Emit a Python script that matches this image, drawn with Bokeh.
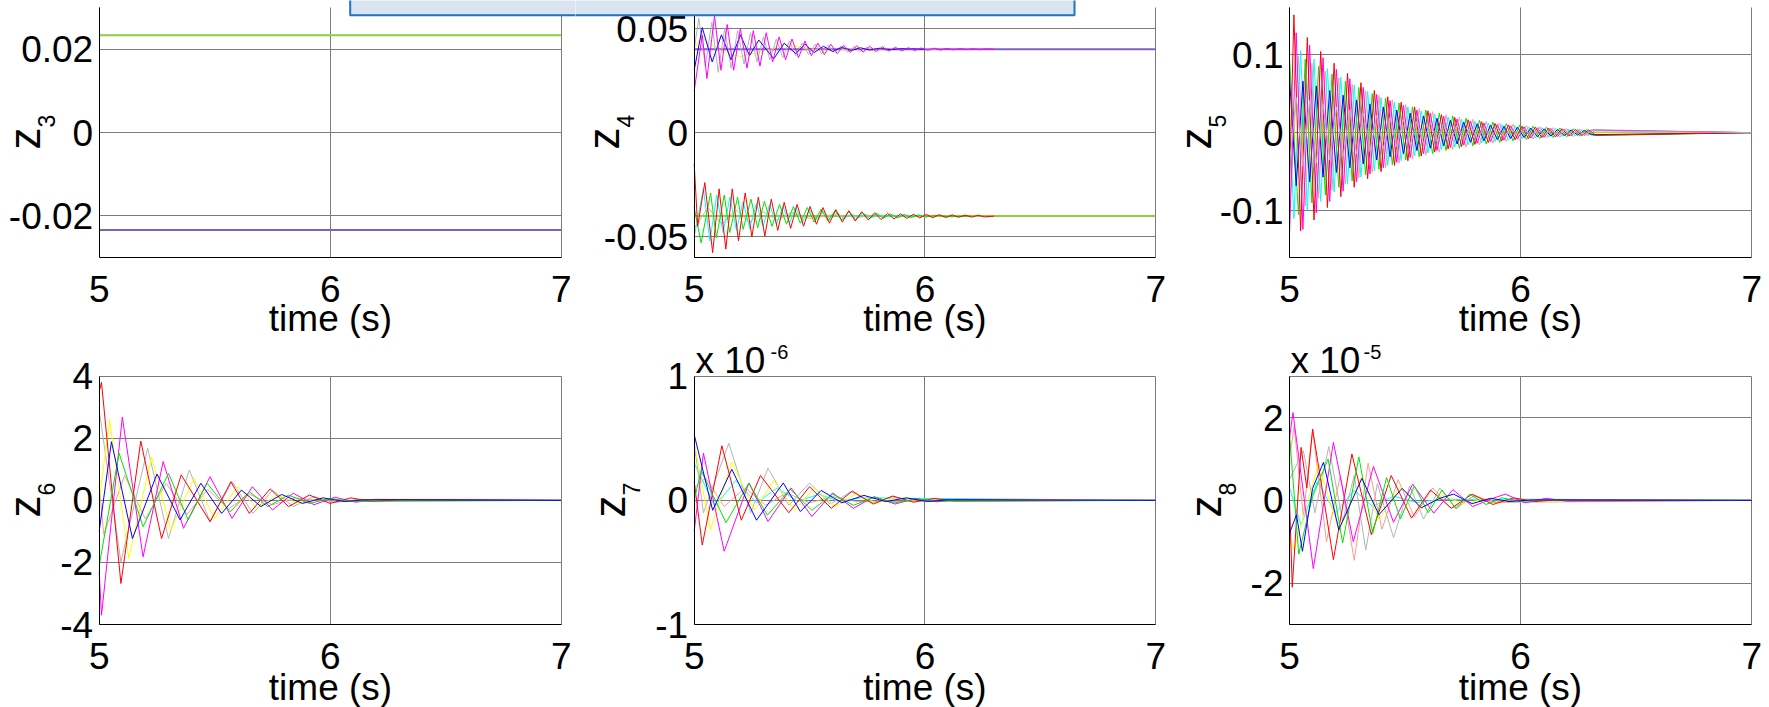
import math
from bokeh.plotting import figure
from bokeh.layouts import column, row
from bokeh.models import FixedTicker, Label, BoxAnnotation, Range1d, Grid
from bokeh.embed import file_html
from bokeh.resources import INLINE

# ---------------------------------------------------------------- data
TIME_TICKS = [5, 6, 7]
TIME_LABELS = ["5", "6", "7"]

Z3_TICKS, Z3_TICK_LABELS = [-0.02, 0, 0.02], ["-0.02", "0", "0.02"]
Z4_TICKS, Z4_TICK_LABELS = [-0.05, 0, 0.05], ["-0.05", "0", "0.05"]
Z5_TICKS, Z5_TICK_LABELS = [-0.1, 0, 0.1], ["-0.1", "0", "0.1"]
Z6_TICKS, Z6_TICK_LABELS = [-4, -2, 0, 2, 4], ["-4", "-2", "0", "2", "4"]
Z7_TICKS, Z7_TICK_LABELS = [-1, 0, 1], ["-1", "0", "1"]        # values in units of 1e-6
Z8_TICKS, Z8_TICK_LABELS = [-2, 0, 2], ["-2", "0", "2"]         # values in units of 1e-5

# z3 : constant states
Z3_T = [5.0, 7.0]
Z3_LIME = [0.0234, 0.0234]
Z3_PURPLE = [-0.0234, -0.0234]

# z4
Z4_CONST_T = [5.0, 7.0]
Z4_UPPER = [0.0401, 0.0401]
Z4_LOWER = [-0.0401, -0.0401]
Z4_MAGENTA_T = [5.000, 5.035, 5.055, 5.088, 5.116, 5.143, 5.171, 5.200, 5.229, 5.256,
                5.285, 5.312, 5.340, 5.368, 5.396, 5.424, 5.452, 5.480, 5.508, 5.536,
                5.564, 5.592, 5.620, 5.648, 5.676, 5.704, 5.732, 5.760, 5.788, 5.816,
                5.844, 5.872, 5.900, 5.928, 5.956, 5.984, 6.012, 6.040, 6.068, 6.096,
                6.124, 6.152, 6.180, 6.208, 6.236, 6.264, 6.300]
Z4_MAGENTA = [0.020, 0.047, 0.026, 0.056, 0.030, 0.052, 0.030, 0.050, 0.031, 0.049,
              0.032, 0.048, 0.034, 0.046, 0.035, 0.045, 0.036, 0.044, 0.037, 0.043,
              0.0375, 0.0425, 0.038, 0.042, 0.0385, 0.0418, 0.0387, 0.0415, 0.039, 0.0412,
              0.0392, 0.041, 0.0393, 0.0408, 0.0395, 0.0407, 0.0396, 0.0406, 0.0397, 0.0405,
              0.0398, 0.0404, 0.0399, 0.0403, 0.0399, 0.0403, 0.0401]
Z4_GRAY_T = [5.000, 5.020, 5.048, 5.076, 5.104, 5.132, 5.160, 5.188, 5.216, 5.244,
             5.272, 5.300, 5.328, 5.356, 5.384, 5.412, 5.440, 5.468, 5.496, 5.524,
             5.552, 5.580, 5.608, 5.636, 5.664, 5.692, 5.720, 5.748, 5.776, 5.804,
             5.832, 5.860, 5.888, 5.916, 5.944, 5.972, 6.050]
Z4_GRAY = [0.040, 0.055, 0.032, 0.053, 0.029, 0.050, 0.031, 0.049, 0.033, 0.048,
           0.034, 0.046, 0.035, 0.045, 0.036, 0.044, 0.037, 0.043, 0.0375, 0.0425,
           0.038, 0.042, 0.0385, 0.0416, 0.0388, 0.0413, 0.039, 0.041, 0.0393, 0.0408,
           0.0395, 0.0406, 0.0397, 0.0404, 0.0398, 0.0403, 0.0401]
Z4_BLUE_T = [5.000, 5.035, 5.078, 5.118, 5.160, 5.200, 5.240, 5.280, 5.345, 5.390,
             5.440, 5.480, 5.520, 5.560, 5.600, 5.640, 5.680, 5.720, 5.760, 5.800,
             5.850, 5.900, 6.000]
Z4_BLUE = [0.030, 0.0505, 0.034, 0.047, 0.035, 0.047, 0.037, 0.0445, 0.0355, 0.043,
           0.038, 0.0425, 0.0385, 0.0415, 0.039, 0.041, 0.0395, 0.0408, 0.0397, 0.0405,
           0.0399, 0.0403, 0.0401]
Z4_YELLOW_T = [5.000, 5.030, 5.100, 5.200, 5.300, 5.400, 5.500, 5.600, 5.700, 5.850]
Z4_YELLOW = [0.040, 0.046, 0.040, 0.0365, 0.039, 0.0425, 0.040, 0.0393, 0.0405, 0.0401]
Z4_RED_T = [5.000, 5.015, 5.046, 5.080, 5.108, 5.137, 5.165, 5.192, 5.221, 5.250,
            5.278, 5.306, 5.334, 5.362, 5.390, 5.418, 5.446, 5.474, 5.502, 5.530,
            5.558, 5.586, 5.614, 5.642, 5.670, 5.698, 5.726, 5.754, 5.782, 5.810,
            5.838, 5.866, 5.894, 5.922, 5.950, 5.978, 6.006, 6.034, 6.062, 6.090,
            6.118, 6.146, 6.174, 6.202, 6.230, 6.258, 6.300]
Z4_RED = [-0.015, -0.045, -0.024, -0.0577, -0.027, -0.056, -0.027, -0.052, -0.029, -0.050,
          -0.031, -0.0497, -0.032, -0.047, -0.0335, -0.046, -0.0345, -0.045, -0.0355, -0.044,
          -0.036, -0.0435, -0.037, -0.043, -0.0375, -0.0425, -0.038, -0.042, -0.0385, -0.0418,
          -0.0388, -0.0415, -0.039, -0.0412, -0.0392, -0.041, -0.0393, -0.0409, -0.0394, -0.0408,
          -0.0395, -0.0407, -0.0396, -0.0406, -0.0397, -0.0405, -0.0401]
Z4_GREEN_T = [5.000, 5.030, 5.071, 5.096, 5.130, 5.154, 5.188, 5.212, 5.246, 5.275,
              5.304, 5.337, 5.370, 5.400, 5.430, 5.460, 5.490, 5.520, 5.550, 5.580,
              5.610, 5.640, 5.670, 5.700, 5.730, 5.760, 5.790, 5.820, 5.850, 5.880,
              5.910, 5.940, 5.970, 6.000, 6.050, 6.100, 6.200]
Z4_GREEN = [-0.036, -0.053, -0.029, -0.0505, -0.030, -0.048, -0.031, -0.0465, -0.032, -0.0457,
            -0.033, -0.045, -0.0345, -0.044, -0.0355, -0.0435, -0.036, -0.043, -0.0368, -0.0425,
            -0.0375, -0.042, -0.038, -0.0418, -0.0385, -0.0414, -0.0388, -0.0412, -0.039, -0.041,
            -0.0393, -0.0408, -0.0395, -0.0406, -0.0397, -0.0404, -0.0401]
Z4_CYAN_T = [5.000, 5.040, 5.068, 5.098, 5.125, 5.155, 5.183, 5.212, 5.240, 5.270,
             5.298, 5.327, 5.356, 5.385, 5.413, 5.440, 5.470, 5.500, 5.530, 5.560,
             5.590, 5.620, 5.650, 5.680, 5.710, 5.740, 5.770, 5.800, 5.850, 5.900, 6.000]
Z4_CYAN = [-0.050, -0.027, -0.052, -0.030, -0.048, -0.031, -0.047, -0.033, -0.046, -0.034,
           -0.045, -0.0345, -0.044, -0.0355, -0.0435, -0.036, -0.043, -0.037, -0.042, -0.0378,
           -0.0418, -0.0385, -0.0414, -0.039, -0.041, -0.0393, -0.0407, -0.0396, -0.0404, -0.0399, -0.0401]
Z4_SALMON_T = [5.000, 5.060, 5.120, 5.180, 5.240, 5.300, 5.360, 5.420, 5.500, 5.600, 5.700, 5.850]
Z4_SALMON = [-0.046, -0.036, -0.044, -0.037, -0.043, -0.038, -0.042, -0.0385, -0.0412, -0.0395, -0.0405, -0.0401]

# z5 : fast decaying oscillation, extrema read on three time grids
Z5_TA = [5.000, 5.029, 5.058, 5.087, 5.116, 5.145, 5.174, 5.203, 5.232, 5.261,
         5.290, 5.319, 5.348, 5.377, 5.406, 5.435, 5.464, 5.493, 5.522, 5.551,
         5.580, 5.609, 5.638, 5.667, 5.696, 5.725, 5.754, 5.783, 5.812, 5.841,
         5.870, 5.899, 5.928, 5.957, 5.986, 6.015, 6.044, 6.073, 6.102, 6.131,
         6.160, 6.189, 6.218, 6.247, 6.276, 6.305, 7.000]
Z5_TB = [5.000, 5.039, 5.068, 5.097, 5.126, 5.155, 5.184, 5.213, 5.242, 5.271,
         5.300, 5.329, 5.358, 5.387, 5.416, 5.445, 5.474, 5.503, 5.532, 5.561,
         5.590, 5.619, 5.648, 5.677, 5.706, 5.735, 5.764, 5.793, 5.822, 5.851,
         5.880, 5.909, 5.938, 5.967, 5.996, 6.025, 6.054, 6.083, 6.112, 6.141,
         6.170, 6.199, 6.228, 6.257, 6.286, 6.315, 7.000]
Z5_TC = [5.000, 5.019, 5.048, 5.077, 5.106, 5.135, 5.164, 5.193, 5.222, 5.251,
         5.280, 5.309, 5.338, 5.367, 5.396, 5.425, 5.454, 5.483, 5.512, 5.541,
         5.570, 5.599, 5.628, 5.657, 5.686, 5.715, 5.744, 5.773, 5.802, 5.831,
         5.860, 5.889, 5.918, 5.947, 5.976, 6.005, 6.034, 6.063, 6.092, 6.121,
         6.150, 6.179, 6.208, 6.237, 6.266, 6.295, 6.324, 7.000]
Z5_RED = [-0.070,
          0.151, -0.126, 0.122, -0.112, 0.104, -0.096, 0.089, -0.082, 0.076, -0.070,
          0.064, -0.059, 0.054, -0.050, 0.046, -0.042, 0.039, -0.036, 0.033, -0.030,
          0.028, -0.025, 0.023, -0.021, 0.0195, -0.018, 0.0165, -0.015, 0.014, -0.0128,
          0.0118, -0.0108, 0.0099, -0.0091, 0.0083, -0.0076, 0.0070, -0.0064, 0.0059, -0.0054,
          0.0050, -0.0045, 0.0041, -0.0038, 0.0035, -0.0032, 0.0]
Z5_CYAN = [0.020,
           -0.110, 0.105, -0.100, 0.094, -0.088, 0.082, -0.076, 0.071, -0.066, 0.061,
           -0.057, 0.053, -0.049, 0.045, -0.042, 0.039, -0.036, 0.033, -0.030, 0.028,
           -0.026, 0.024, -0.022, 0.020, -0.0185, 0.017, -0.0157, 0.0145, -0.0134, 0.0123,
           -0.0113, 0.0104, -0.0096, 0.0088, -0.0081, 0.0075, -0.0069, 0.0063, -0.0058, 0.0053,
           -0.0049, 0.0045, -0.0041, 0.0038, -0.0035, 0.0032, 0.0]
Z5_MAGENTA = [-0.130, 0.128, -0.124, 0.112, -0.103, 0.096, -0.088, 0.081, -0.075, 0.069,
              -0.063, 0.058, -0.053, 0.049, -0.045, 0.041, -0.038, 0.035, -0.032, 0.029,
              -0.027, 0.025, -0.023, 0.021, -0.019, 0.0175, -0.016, 0.0147, -0.0135, 0.0124,
              -0.0114, 0.0105, -0.0096, 0.0088, -0.0081, 0.0075, -0.0069, 0.0063, -0.0058, 0.0053,
              -0.0049, 0.0045, -0.0041, 0.0038, -0.0035, 0.0032, 0.0]
Z5_BLUE = [0.070, -0.068, 0.066, -0.063, 0.060, -0.057, 0.054, -0.051, 0.048, -0.045,
           0.042, -0.040, 0.037, -0.035, 0.033, -0.031, 0.029, -0.027, 0.025, -0.023,
           0.0215, -0.020, 0.0185, -0.017, 0.0158, -0.0146, 0.0135, -0.0124, 0.0114, -0.0105,
           0.0097, -0.0089, 0.0082, -0.0075, 0.0069, -0.0063, 0.0058, -0.0053, 0.0049, -0.0045,
           0.0041, -0.0038, 0.0035, -0.0032, 0.0029, -0.0026, 0.0]
Z5_GRAY = [-0.040, 0.045, -0.043, 0.041, -0.039, 0.037, -0.035, 0.033, -0.031, 0.029,
           -0.027, 0.025, -0.024, 0.022, -0.021, 0.0195, -0.018, 0.017, -0.016, 0.015,
           -0.014, 0.013, -0.012, 0.011, -0.0103, 0.0096, -0.009, 0.0084, -0.0078, 0.0073,
           -0.0068, 0.0063, -0.0059, 0.0055, -0.0051, 0.0048, -0.0045, 0.0042, -0.0039, 0.0036,
           -0.0034, 0.0031, -0.0029, 0.0027, -0.0025, 0.0023, 0.0]
Z5_GREEN = [0.095, -0.105, 0.094, -0.090, 0.085, -0.080, 0.075, -0.070, 0.066, -0.062,
            0.058, -0.054, 0.050, -0.047, 0.044, -0.041, 0.038, -0.035, 0.033, -0.031,
            0.029, -0.027, 0.025, -0.023, 0.0215, -0.020, 0.0185, -0.017, 0.0158, -0.0146,
            0.0135, -0.0125, 0.0115, -0.0106, 0.0098, -0.0090, 0.0083, -0.0076, 0.0070, -0.0064,
            0.0059, -0.0054, 0.0050, -0.0046, 0.0042, -0.0038, 0.0]
Z5_SALMON = [-0.100, 0.098, -0.094, 0.089, -0.084, 0.079, -0.074, 0.070, -0.066, 0.062,
             -0.058, 0.054, -0.051, 0.048, -0.045, 0.042, -0.039, 0.036, -0.034, 0.031,
             -0.029, 0.027, -0.025, 0.023, -0.0215, 0.020, -0.0185, 0.017, -0.0158, 0.0146,
             -0.0135, 0.0125, -0.0115, 0.0106, -0.0098, 0.0090, -0.0083, 0.0076, -0.0070, 0.0064,
             -0.0059, 0.0054, -0.0050, 0.0046, -0.0042, 0.0038, 0.0]
Z5_YELLOW = [0.020, -0.018, 0.016, -0.015, 0.014, -0.013, 0.012, -0.011, 0.010, -0.009,
             0.008, -0.0075, 0.007, -0.0065, 0.006, -0.0055, 0.005, -0.0046, 0.0042, -0.0039,
             0.0036, -0.0033, 0.003, -0.0028, 0.0026, -0.0024, 0.0022, -0.002, 0.0019, -0.0017,
             0.0016, -0.0015, 0.0014, -0.0013, 0.0012, -0.0011, 0.001, -0.0009, 0.0008, -0.0008,
             0.0007, -0.0006, 0.0006, -0.0005, 0.0005, -0.0004, 0.0]

# z6
Z6_RED_T = [5.000, 5.010, 5.094, 5.180, 5.270, 5.355, 5.480, 5.570, 5.650, 5.740, 5.820, 5.910, 6.000, 6.090, 6.180, 6.300, 7.000]
Z6_RED = [3.5, 3.8, -2.68, 1.91, -1.23, 0.82, -0.69, 0.60, -0.42, 0.37, -0.20, 0.17, -0.10, 0.08, -0.04, 0.02, 0.0]
Z6_MAGENTA_T = [5.000, 5.010, 5.100, 5.190, 5.277, 5.365, 5.480, 5.575, 5.663, 5.750, 5.840, 5.930, 6.020, 6.110, 6.200, 7.000]
Z6_MAGENTA = [-2.3, -3.7, 2.68, -1.82, 1.25, -0.90, 0.76, -0.58, 0.44, -0.31, 0.23, -0.14, 0.10, -0.06, 0.03, 0.0]
Z6_YELLOW_T = [5.000, 5.045, 5.128, 5.227, 5.310, 5.410, 5.500, 5.600, 5.680, 5.770, 5.865, 5.960, 6.060, 6.160, 7.000]
Z6_YELLOW = [0.0, 2.6, -1.87, 1.40, -0.96, 0.71, -0.58, 0.44, -0.26, 0.17, -0.10, 0.07, -0.04, 0.02, 0.0]
Z6_GRAY_T = [5.000, 5.094, 5.210, 5.300, 5.390, 5.480, 5.575, 5.666, 5.750, 5.840, 5.930, 6.020, 6.120, 7.000]
Z6_GRAY = [2.9, -1.98, 1.68, -1.23, 0.98, -0.69, 0.60, -0.42, 0.33, -0.20, 0.12, -0.07, 0.03, 0.0]
Z6_BLUE_T = [5.000, 5.053, 5.144, 5.250, 5.350, 5.440, 5.530, 5.616, 5.700, 5.790, 5.880, 5.970, 6.060, 6.150, 7.000]
Z6_BLUE = [-1.0, 1.89, -1.23, 0.85, -0.63, 0.55, -0.42, 0.33, -0.20, 0.19, -0.10, 0.08, -0.04, 0.02, 0.0]
Z6_GREEN_T = [5.000, 5.086, 5.190, 5.300, 5.385, 5.467, 5.567, 5.650, 5.730, 5.820, 5.910, 6.000, 6.090, 7.000]
Z6_GREEN = [-2.1, 1.52, -0.85, 0.87, -0.63, 0.55, -0.37, 0.28, -0.20, 0.17, -0.10, 0.06, -0.03, 0.0]
Z6_SALMON_T = [5.000, 5.020, 5.110, 5.200, 5.290, 5.380, 5.470, 5.560, 5.650, 5.750, 5.850, 6.000, 7.000]
Z6_SALMON = [0.5, -1.1, 0.8, -0.6, 0.55, -0.45, 0.35, -0.28, 0.20, -0.14, 0.08, -0.03, 0.0]

# z7 (x 1e-6)
Z7_BLUE_T = [5.000, 5.080, 5.163, 5.270, 5.386, 5.460, 5.550, 5.640, 5.735, 5.830, 5.920, 6.010, 6.100, 7.000]
Z7_BLUE = [0.53, -0.08, 0.25, -0.16, 0.14, -0.09, 0.08, -0.02, 0.04, -0.01, 0.02, -0.01, 0.005, 0.0]
Z7_RED_T = [5.000, 5.035, 5.120, 5.204, 5.287, 5.410, 5.500, 5.594, 5.685, 5.776, 5.860, 5.950, 6.040, 6.130, 7.000]
Z7_RED = [0.15, -0.36, 0.44, -0.16, 0.20, -0.10, 0.11, -0.064, 0.075, -0.03, 0.035, -0.015, 0.015, -0.005, 0.0]
Z7_MAGENTA_T = [5.000, 5.040, 5.130, 5.237, 5.320, 5.420, 5.510, 5.600, 5.690, 5.780, 5.870, 5.960, 6.050, 6.140, 7.000]
Z7_MAGENTA = [-0.25, 0.38, -0.41, 0.14, -0.17, 0.10, -0.13, 0.06, -0.064, 0.03, -0.03, 0.015, -0.012, 0.005, 0.0]
Z7_GRAY_T = [5.000, 5.040, 5.150, 5.245, 5.320, 5.410, 5.500, 5.590, 5.680, 5.770, 5.860, 5.950, 6.050, 7.000]
Z7_GRAY = [0.46, -0.10, 0.46, -0.10, 0.26, -0.04, 0.14, -0.03, 0.07, -0.02, 0.03, -0.01, 0.005, 0.0]
Z7_YELLOW_T = [5.000, 5.070, 5.163, 5.260, 5.345, 5.436, 5.520, 5.610, 5.700, 5.790, 5.880, 5.970, 6.060, 7.000]
Z7_YELLOW = [0.47, -0.24, 0.31, -0.08, 0.16, -0.08, 0.10, -0.05, 0.05, -0.02, 0.02, -0.01, 0.005, 0.0]
Z7_GREEN_T = [5.000, 5.030, 5.138, 5.237, 5.317, 5.416, 5.510, 5.600, 5.690, 5.780, 5.870, 5.960, 6.050, 7.000]
Z7_GREEN = [0.0, 0.24, -0.18, 0.14, -0.12, 0.09, -0.08, 0.05, -0.04, 0.025, -0.02, 0.01, -0.005, 0.0]
Z7_CYAN_T = [5.000, 5.090, 5.180, 5.270, 5.360, 5.450, 5.540, 5.630, 5.720, 7.000]
Z7_CYAN = [0.30, -0.05, 0.16, -0.02, 0.10, -0.01, 0.05, -0.01, 0.02, 0.0]
Z7_SALMON_T = [5.000, 5.050, 5.130, 5.220, 5.310, 5.400, 5.500, 5.600, 5.700, 7.000]
Z7_SALMON = [0.10, 0.18, -0.05, 0.10, -0.04, 0.06, -0.02, 0.03, -0.01, 0.0]

# z8 (x 1e-5)
Z8_MAGENTA_T = [5.000, 5.015, 5.103, 5.190, 5.276, 5.363, 5.450, 5.533, 5.624, 5.707, 5.793, 5.880, 5.934, 6.020, 6.110, 6.200, 7.000]
Z8_MAGENTA = [1.5, 2.12, -1.65, 1.40, -1.00, 0.82, -0.53, 0.39, -0.31, 0.26, -0.15, 0.05, 0.15, -0.06, 0.05, -0.02, 0.0]
Z8_RED_T = [5.000, 5.012, 5.050, 5.075, 5.100, 5.190, 5.270, 5.354, 5.440, 5.528, 5.610, 5.700, 5.790, 5.880, 5.970, 6.060, 6.150, 7.000]
Z8_RED = [0.0, -2.1, 1.28, 0.3, 1.72, -1.43, 1.12, -0.83, 0.60, -0.43, 0.25, -0.19, 0.15, -0.10, 0.06, -0.03, 0.01, 0.0]
Z8_GREEN_T = [5.000, 5.040, 5.100, 5.167, 5.230, 5.300, 5.360, 5.420, 5.480, 5.540, 5.600, 5.660, 5.720, 5.780, 5.850, 5.920, 6.000, 6.080, 7.000]
Z8_GREEN = [1.6, -1.3, 0.1, 1.0, -1.03, 1.05, -0.8, 0.55, -0.45, 0.35, -0.30, 0.25, -0.20, 0.15, -0.10, 0.06, -0.03, 0.01, 0.0]
Z8_BLUE_T = [5.000, 5.030, 5.056, 5.100, 5.147, 5.213, 5.313, 5.387, 5.487, 5.570, 5.650, 5.710, 5.790, 5.870, 5.950, 6.050, 7.000]
Z8_BLUE = [-0.8, -0.35, -1.23, 0.29, 0.92, -0.71, 0.53, -0.35, 0.29, -0.18, 0.05, 0.15, -0.08, 0.05, -0.03, 0.01, 0.0]
Z8_YELLOW_T = [5.000, 5.020, 5.125, 5.215, 5.313, 5.387, 5.480, 5.570, 5.660, 5.750, 5.850, 5.950, 7.000]
Z8_YELLOW = [-0.9, -1.2, 0.88, -0.75, 0.57, -0.47, 0.33, -0.20, 0.12, -0.08, 0.04, -0.02, 0.0]
Z8_GRAY_T = [5.000, 5.060, 5.110, 5.170, 5.230, 5.280, 5.330, 5.380, 5.450, 5.520, 5.580, 5.650, 5.720, 5.800, 5.880, 5.960, 7.000]
Z8_GRAY = [0.5, 1.2, -0.3, 1.3, -0.5, 0.6, -1.2, 0.4, -0.9, 0.35, -0.45, 0.30, -0.20, 0.12, -0.06, 0.03, 0.0]
Z8_CYAN_T = [5.000, 5.050, 5.120, 5.200, 5.280, 5.360, 5.450, 5.550, 5.650, 7.000]
Z8_CYAN = [0.3, -0.6, 0.45, -0.3, 0.25, -0.15, 0.10, -0.05, 0.02, 0.0]
Z8_SALMON_T = [5.000, 5.020, 5.060, 5.100, 5.160, 5.220, 5.280, 5.340, 5.400, 5.470, 5.540, 5.620, 5.700, 5.800, 5.900, 7.000]
Z8_SALMON = [1.0, 1.8, -0.4, 1.7, -1.0, 0.6, -1.45, 0.9, -0.7, 0.5, -0.4, 0.3, -0.2, 0.1, -0.05, 0.0]

# ---------------------------------------------------------------- style / layout
FONT = "Liberation Sans"
COLORS = {
    "red": "#ff0000", "green": "#00e400", "blue": "#0000ff", "magenta": "#ff00ff",
    "yellow": "#ffff00", "gray": "#b4b4b4", "cyan": "#00ffff", "salmon": "#ff9c8c",
    "purple": "#7e60bf", "lime": "#8fcf3f",
}
GRID = "#7a7a7a"
HAS_CROSS_BOUNDS = "cross_bounds" in Grid.properties()

ROW1_H, ROW2_H = 338, 369
COLS = [(0, 575), (575, 593), (1168, 601)]          # canvas x-origin and width
PLOT_X = [(98.7, 560.7), (693.7, 1155.2), (1289.0, 1751.3)]   # pixel of t=5 and t=7
ROW1_Y = (7.3, 257.0)     # pixel of top / bottom value, first row
ROW2_Y = (375.7, 624.0)   # second row


def make_panel(col, rowi, vlo, vhi, ticks, labels, grid_extra):
    X0, W = COLS[col]
    Y0, H = (0, ROW1_H) if rowi == 0 else (ROW1_H, ROW2_H)
    xa, xb = PLOT_X[col]
    ytop, ybot = ROW1_Y if rowi == 0 else ROW2_Y
    kx = 2.0 / (xb - xa)
    ky = (vhi - vlo) / (ybot - ytop)
    xr = Range1d(5 - (xa - X0) * kx, 7 + (X0 + W - xb) * kx)
    yr = Range1d(vlo - (Y0 + H - ybot) * ky, vhi + (ytop - Y0) * ky)
    p = figure(width=W, height=H, x_range=xr, y_range=yr,
               output_backend="svg", toolbar_location=None,
               min_border=0, min_border_left=0, min_border_right=0,
               min_border_top=0, min_border_bottom=0)
    p.background_fill_color = "white"
    p.border_fill_color = "white"
    p.outline_line_color = None
    xt = FixedTicker(ticks=TIME_TICKS)
    yt = FixedTicker(ticks=ticks)
    p.xaxis.ticker = xt
    p.yaxis.ticker = yt
    p.xaxis.fixed_location = vlo
    p.yaxis.fixed_location = 5
    p.xaxis.bounds = (5, 7)
    p.yaxis.bounds = (vlo, vhi)
    p.xaxis.major_label_overrides = dict(zip(TIME_TICKS, TIME_LABELS))
    p.yaxis.major_label_overrides = dict(zip(ticks, labels))
    for ax in (p.xaxis, p.yaxis):
        ax.major_tick_in = 0
        ax.major_tick_out = 0
        ax.minor_tick_line_color = None
        ax.axis_line_color = "black"
        ax.axis_line_width = 1
        ax.major_label_text_font = FONT
        ax.major_label_text_font_size = "37px"
        ax.major_label_text_color = "black"
    p.xaxis.major_label_standoff = 18
    p.yaxis.major_label_standoff = 6
    p.xaxis.axis_label = "time (s)"
    p.xaxis.axis_label_text_font = FONT
    p.xaxis.axis_label_text_font_size = "37px"
    p.xaxis.axis_label_text_font_style = "normal"
    p.xaxis.axis_label_text_color = "black"
    p.xaxis.axis_label_standoff = -7 if rowi == 0 else -5
    gy = sorted(set(ticks) | set(grid_extra))
    if HAS_CROSS_BOUNDS:
        p.xgrid.ticker = FixedTicker(ticks=TIME_TICKS)
        p.ygrid.ticker = FixedTicker(ticks=gy)
        p.xgrid.cross_bounds = (vlo, vhi)
        p.ygrid.cross_bounds = (5, 7)
        p.grid.grid_line_color = GRID
        p.grid.grid_line_width = 1
    else:
        p.grid.visible = False
        p.segment(x0=TIME_TICKS, x1=TIME_TICKS, y0=[vlo] * 3, y1=[vhi] * 3,
                  line_color=GRID, line_width=1, level="underlay")
        p.segment(x0=[5] * len(gy), x1=[7] * len(gy), y0=gy, y1=gy,
                  line_color=GRID, line_width=1, level="underlay")
    p._geo = (X0, Y0, W, H)
    return p


def screen(p, gx, gy):
    X0, Y0, W, H = p._geo
    return gx - X0, Y0 + H - gy


def text_label(p, gx, gy, text, size, angle=0.0):
    sx, sy = screen(p, gx, gy)
    p.add_layout(Label(x=sx, y=sy, x_units="screen", y_units="screen", text=text,
                       angle=angle, text_font=FONT, text_font_size=size,
                       text_color="black", text_align="left", text_baseline="middle"))


def z_label(p, num, right_edge, start_y):
    # rotated "z" (44px) followed by a lowered subscript digit (23px)
    text_label(p, right_edge - 15.2, start_y, "z", "44px", math.pi / 2)
    text_label(p, right_edge + 7, start_y - 22, num, "23px", math.pi / 2)


def draw(p, series):
    for name, t, v, w in series:
        n = min(len(t), len(v))
        p.line(t[:n], v[:n], line_color=COLORS[name], line_width=w)


f1 = make_panel(0, 0, -0.03, 0.03, Z3_TICKS, Z3_TICK_LABELS, [])
f2 = make_panel(1, 0, -0.06, 0.06, Z4_TICKS, Z4_TICK_LABELS, [])
f3 = make_panel(2, 0, -0.16, 0.16, Z5_TICKS, Z5_TICK_LABELS, [])
f4 = make_panel(0, 1, -4, 4, Z6_TICKS, Z6_TICK_LABELS, [4])
f5 = make_panel(1, 1, -1, 1, Z7_TICKS, Z7_TICK_LABELS, [1])
f6 = make_panel(2, 1, -3, 3, Z8_TICKS, Z8_TICK_LABELS, [3])

draw(f1, [("lime", Z3_T, Z3_LIME, 2), ("purple", Z3_T, Z3_PURPLE, 2)])
draw(f2, [("purple", Z4_CONST_T, Z4_UPPER, 2), ("lime", Z4_CONST_T, Z4_LOWER, 2),
          ("yellow", Z4_YELLOW_T, Z4_YELLOW, 1), ("gray", Z4_GRAY_T, Z4_GRAY, 1),
          ("blue", Z4_BLUE_T, Z4_BLUE, 1), ("magenta", Z4_MAGENTA_T, Z4_MAGENTA, 1),
          ("salmon", Z4_SALMON_T, Z4_SALMON, 1), ("cyan", Z4_CYAN_T, Z4_CYAN, 1),
          ("green", Z4_GREEN_T, Z4_GREEN, 1), ("red", Z4_RED_T, Z4_RED, 1)])
draw(f3, [("yellow", Z5_TB, Z5_YELLOW, 1), ("salmon", Z5_TB, Z5_SALMON, 1),
          ("cyan", Z5_TC, Z5_CYAN, 1), ("green", Z5_TB, Z5_GREEN, 1),
          ("blue", Z5_TA, Z5_BLUE, 1), ("magenta", Z5_TA, Z5_MAGENTA, 1),
          ("red", Z5_TC, Z5_RED, 1), ("gray", Z5_TA, Z5_GRAY, 1)])
draw(f4, [("salmon", Z6_SALMON_T, Z6_SALMON, 1), ("gray", Z6_GRAY_T, Z6_GRAY, 1),
          ("yellow", Z6_YELLOW_T, Z6_YELLOW, 1), ("magenta", Z6_MAGENTA_T, Z6_MAGENTA, 1),
          ("red", Z6_RED_T, Z6_RED, 1), ("green", Z6_GREEN_T, Z6_GREEN, 1),
          ("blue", Z6_BLUE_T, Z6_BLUE, 1)])
draw(f5, [("salmon", Z7_SALMON_T, Z7_SALMON, 1), ("cyan", Z7_CYAN_T, Z7_CYAN, 1),
          ("gray", Z7_GRAY_T, Z7_GRAY, 1), ("yellow", Z7_YELLOW_T, Z7_YELLOW, 1),
          ("magenta", Z7_MAGENTA_T, Z7_MAGENTA, 1), ("red", Z7_RED_T, Z7_RED, 1),
          ("green", Z7_GREEN_T, Z7_GREEN, 1), ("blue", Z7_BLUE_T, Z7_BLUE, 1)])
draw(f6, [("cyan", Z8_CYAN_T, Z8_CYAN, 1), ("gray", Z8_GRAY_T, Z8_GRAY, 1),
          ("salmon", Z8_SALMON_T, Z8_SALMON, 1), ("yellow", Z8_YELLOW_T, Z8_YELLOW, 1),
          ("red", Z8_RED_T, Z8_RED, 1), ("magenta", Z8_MAGENTA_T, Z8_MAGENTA, 1),
          ("green", Z8_GREEN_T, Z8_GREEN, 1), ("blue", Z8_BLUE_T, Z8_BLUE, 1)])

# y labels z_n (rotated, subscript)
z_label(f1, "3", 39.0, 149)
z_label(f2, "4", 618.0, 149)
z_label(f3, "5", 1210.0, 149)
z_label(f4, "6", 39.0, 517)
z_label(f5, "7", 624.0, 517)
z_label(f6, "8", 1220.0, 517)

# exponent labels
text_label(f5, 695, 360.0, "x 10", "37px")
text_label(f5, 770, 351.0, "-6", "20px")
text_label(f6, 1290, 360.0, "x 10", "37px")
text_label(f6, 1363, 351.0, "-5", "20px")

# legend box, partly visible at the top
BOX_FILL = "#dbe5f1"
BOX_LINE = "#1f72c4"
for fig in (f1, f2):
    l, b = screen(fig, 349.7, 14.7)
    r, _ = screen(fig, 1074.0, 0)
    fig.add_layout(BoxAnnotation(left=l, right=r, bottom=b, top=b + 100,
                                 left_units="screen", right_units="screen",
                                 bottom_units="screen", top_units="screen",
                                 fill_color=BOX_FILL, fill_alpha=1.0,
                                 line_color=BOX_LINE, line_width=2, line_alpha=1.0))

layout = column(row(f1, f2, f3), row(f4, f5, f6))
with open("out.html", "w") as fh:
    fh.write(file_html(layout, INLINE))
